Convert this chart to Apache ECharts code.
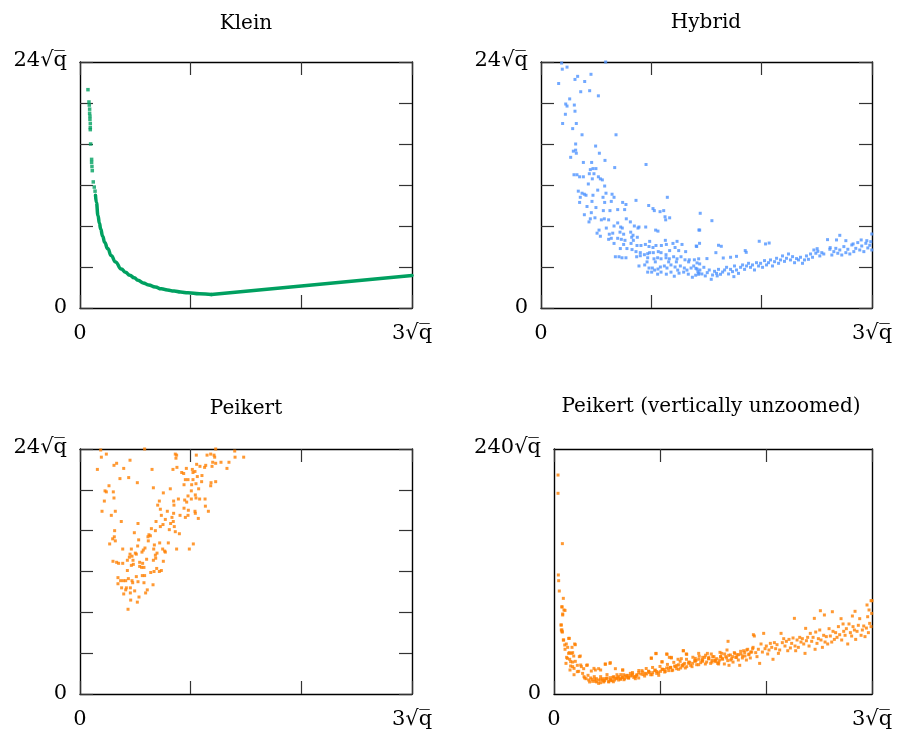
<!DOCTYPE html>
<html><head><meta charset="utf-8">
<script src="https://cdn.jsdelivr.net/npm/echarts@6/dist/echarts.min.js"></script>
<style>html,body{margin:0;padding:0;background:#fff}#c{width:897px;height:730px}</style>
</head><body><div id="c"></div>
<script>
// ---- titles and tick labels ----
const panelTitles = ['Klein', 'Hybrid', 'Peikert', 'Peikert (vertically unzoomed)'];
const xTickLabels = ['0', '3\u221Aq\u0305'];
const yTickLabels = ['0', '24\u221Aq\u0305'];
const yTickLabelsFull = ['0', '240\u221Aq\u0305'];
const xMax = 3, yMax = 24, yMaxFull = 240;

// ---- Klein (x, y in units of sqrt q) ----
const kleinDots = [
[0.072,21.3],[0.081,20.1],[0.084,19.8],[0.087,19.4],[0.087,19.0],[0.090,18.7],[0.090,18.4],[0.093,18.0],
[0.093,17.6],[0.093,17.4],[0.096,16.0],[0.105,14.5],[0.105,14.2],[0.108,13.8],[0.111,13.4],[0.120,12.3],
[0.129,11.8],[0.136,11.4]];
const kleinCurveFall = [
[0.14,11.0],[0.148,10.3],[0.163,9.0],[0.175,8.3],[0.187,7.7],[0.205,7.0],[0.223,6.4],[0.25,5.8],[0.283,5.1],[0.32,4.5],[0.373,3.8],
[0.41,3.5],[0.45,3.2],[0.49,2.95],[0.524,2.7],[0.57,2.45],[0.62,2.25],[0.68,2.05],[0.735,1.87],[0.79,1.75],[0.85,1.65],[0.91,1.56],
[0.976,1.48],[1.08,1.38],[1.187,1.32]];
const kleinCurveRise = [[1.187,1.32],[2.0,2.15],[3.0,3.17]];

// ---- Hybrid ----
const hybridPts = [
[0.187,23.9],[0.586,24.0],[0.236,23.5],[0.193,23.3],[0.332,22.6],[0.453,22.8],[0.308,22.3],[0.396,22.1],[0.160,21.9],
[0.360,21.1],[0.441,21.2],[0.520,20.7],[0.260,20.4],[0.224,19.9],[0.302,19.8],[0.236,19.7],[0.308,19.2],[0.221,18.9],
[0.196,18.0],[0.320,18.0],[0.287,17.5],[0.680,16.9],[0.372,16.9],[0.314,16.0],[0.495,15.8],[0.293,15.3],[0.314,15.4],
[0.320,15.1],[0.529,15.1],[0.269,14.7],[0.580,14.4],[0.952,14.0],[0.384,14.2],[0.459,14.2],[0.668,13.7],[0.498,13.6],
[0.471,13.6],[0.447,13.5],[0.480,13.1],[0.438,13.1],[0.299,13.0],[0.326,13.0],[0.350,12.8],[0.384,12.8],[0.520,12.8],
[0.538,12.6],[0.556,12.5],[0.429,12.1],[0.465,12.6],[0.577,11.9],[0.338,11.4],[0.372,11.2],[0.393,11.1],[0.408,11.0],
[0.356,10.8],[0.471,11.0],[0.514,11.5],[0.589,11.2],[0.644,11.1],[0.662,10.8],[1.145,10.8],[0.350,10.3],[0.462,10.4],
[0.562,10.8],[0.577,10.3],[0.637,10.4],[0.740,10.3],[0.770,10.1],[0.861,10.5],[0.976,10.0],[1.015,9.7],[1.027,9.5],
[1.079,9.4],[1.112,9.5],[0.417,9.9],[0.498,9.8],[0.565,9.5],[0.625,9.5],[0.695,9.6],[0.758,9.6],[1.124,8.9],[1.166,8.8],
[1.130,8.6],[0.393,9.1],[0.456,9.3],[0.489,8.8],[0.574,8.7],[0.613,8.6],[0.547,8.6],[0.447,8.7],[0.435,8.4],[0.773,8.7],
[0.810,8.4],[0.695,8.3],[0.846,8.0],[0.888,7.9],[0.949,7.9],[0.722,7.9],[0.662,8.0],[0.737,7.8],[0.592,7.8],[0.879,7.8],
[0.526,7.6],[0.508,7.3],[0.538,7.0],[0.619,7.2],[0.650,7.3],[0.716,7.4],[0.749,7.2],[0.813,7.4],[0.834,7.1],[1.039,7.6],
[1.060,7.5],[0.613,6.7],[0.637,6.8],[0.695,6.8],[0.728,6.7],[0.761,6.6],[0.822,6.9],[0.837,6.6],[0.873,6.9],[0.985,6.5],
[0.662,6.3],[0.749,6.2],[0.816,6.3],[0.870,6.1],[0.906,6.1],[0.946,6.2],[0.979,6.0],[1.015,5.9],[1.042,6.1],[1.127,6.6],
[1.091,6.1],[1.136,6.2],[1.196,6.3],[1.233,6.5],[1.278,6.2],[0.719,5.8],[0.779,5.8],[0.825,5.7],[0.861,5.5],[0.900,5.4],
[0.937,5.2],[0.967,5.3],[0.985,5.4],[1.018,5.4],[1.063,5.5],[1.088,5.4],[1.133,5.2],[1.166,5.6],[1.215,5.9],[1.248,5.6],
[1.311,5.5],[1.411,6.0],[1.438,7.6],[0.674,5.0],[0.707,5.0],[0.734,4.9],[0.770,4.9],[0.867,5.0],[0.900,5.1],[0.967,4.9],
[1.024,4.8],[1.057,4.9],[1.088,4.8],[1.133,4.9],[1.163,4.8],[1.202,5.0],[1.233,4.8],[1.269,5.0],[1.305,4.7],[1.344,4.7],
[1.390,4.7],[1.429,4.8],[0.888,4.1],[0.940,4.2],[0.979,3.9],[1.009,3.9],[1.030,3.7],[1.060,3.8],[1.082,4.0],[1.118,4.1],
[1.142,3.9],[1.178,4.2],[1.215,4.0],[1.239,3.7],[1.263,4.1],[1.299,3.9],[1.323,3.7],[1.360,3.9],[1.384,4.1],[1.414,3.8],
[1.438,4.3],[0.967,3.5],[1.003,3.5],[1.057,3.3],[1.088,3.5],[1.136,3.3],[1.178,3.5],[1.208,3.1],[1.251,3.4],[1.293,3.5],
[1.335,3.3],[1.372,3.0],[1.402,3.2],[1.432,3.4],[0.961,4.5],[1.036,4.5],[1.157,4.5],[1.227,4.5],[1.338,4.5],[1.414,4.4],
[1.443,9.24],[1.549,8.52],[1.431,7.61],[1.437,6.31],[1.407,6.05],[1.609,6.12],[1.634,6.02],[1.585,5.40],[1.978,6.51],
[2.035,6.25],[2.068,6.34],[1.851,5.60],[1.860,5.43],[1.718,4.95],[1.772,5.04],[1.652,4.88],[1.504,4.82],[2.597,6.67],
[2.708,7.09],[2.678,6.64],[2.763,6.57],[2.829,6.25],[2.902,6.64],[2.998,7.22],[2.503,5.79],[2.621,5.89],
[1.404,3.87],[1.422,3.55],[1.440,3.71],[1.458,3.32],[1.476,3.97],[1.489,3.13],[1.507,3.45],[1.525,3.71],[1.543,2.80],
[1.555,3.22],[1.573,3.58],[1.591,3.38],[1.609,3.77],[1.627,3.29],[1.646,3.51],[1.664,3.71],[1.682,3.97],[1.700,3.32],
[1.718,3.77],[1.736,3.55],[1.754,4.10],[1.772,3.71],[1.790,3.38],[1.809,3.97],[1.827,4.20],[1.845,3.77],[1.863,4.10],
[1.881,4.36],[1.899,3.97],[1.917,4.20],[1.935,3.71],[1.953,4.42],[1.972,4.10],[1.990,4.36],[2.008,3.97],[2.026,4.62],
[2.044,4.20],[2.062,4.42],[2.080,4.69],[2.098,4.10],[2.117,4.52],[2.135,4.85],[2.153,4.36],[2.171,4.69],[2.189,5.08],
[2.207,4.55],[2.225,4.85],[2.243,5.27],[2.261,4.69],[2.280,5.01],[2.298,4.42],[2.316,4.82],[2.334,4.69],[2.352,4.95],
[2.370,4.36],[2.388,4.69],[2.406,5.08],[2.424,4.75],[2.443,5.27],[2.461,4.95],[2.473,5.66],[2.491,5.34],[2.509,5.53],
[2.527,5.08],[2.545,5.40],[2.563,5.27],[2.618,5.73],[2.636,5.17],[2.654,5.50],[2.672,5.82],[2.690,5.34],[2.708,5.66],
[2.726,5.17],[2.745,5.99],[2.763,5.40],[2.781,5.73],[2.799,5.27],[2.817,6.15],[2.835,5.50],[2.853,5.82],[2.871,6.38],
[2.889,5.66],[2.907,6.05],[2.926,5.50],[2.944,6.31],[2.962,5.86],[2.980,6.12],[2.998,5.66],[2.989,6.47],[2.953,6.57],
[1.428,3.29],[1.597,3.13],[1.748,3.06]];

// ---- Peikert (zoomed) ----
const peikertPts = [
[0.187,23.9],[0.584,24.0],[0.193,23.2],[0.238,23.5],[1.226,24.0],[1.398,23.8],[1.401,23.2],[1.479,23.2],[0.861,23.5],
[0.873,23.4],[0.867,23.1],[1.051,23.4],[1.148,23.4],[1.181,23.5],[1.211,23.4],[1.217,23.2],[1.054,22.5],[1.084,22.3],
[1.136,22.4],[1.126,22.2],[1.199,22.7],[1.226,22.6],[1.274,22.7],[1.346,22.7],[1.328,22.1],[1.193,22.3],[0.157,22.0],
[0.307,22.4],[0.331,22.6],[0.395,22.1],[0.452,22.9],[0.651,22.0],[0.840,22.0],[0.876,22.2],[0.919,21.7],[0.937,21.6],
[0.961,22.1],[1.021,21.7],[1.039,21.8],[1.015,22.0],[1.102,21.4],[0.952,21.0],[0.976,21.0],[1.021,21.0],[1.060,21.3],
[1.099,20.8],[1.184,20.7],[1.226,20.8],[1.181,20.4],[0.940,20.5],[1.009,20.5],[1.048,20.6],[1.072,20.1],[0.361,21.1],
[0.440,21.2],[0.518,20.7],[0.262,20.4],[0.226,19.9],[0.238,19.8],[0.301,19.8],[0.307,19.2],[0.663,20.2],[0.816,20.1],
[0.753,19.7],[1.006,19.9],[1.042,19.5],[0.976,19.4],[1.006,19.1],[1.048,19.2],[1.081,19.1],[1.130,19.1],[1.133,18.4],
[0.946,19.0],[0.964,18.8],[0.889,19.1],[0.846,18.9],[0.717,18.9],[0.702,18.5],[0.849,18.5],[0.940,18.2],[0.979,18.0],
[1.039,17.9],[1.042,17.7],[1.069,17.2],[1.160,17.9],[0.220,18.9],[0.199,17.9],[0.319,17.9],[0.283,17.5],[0.373,16.9],
[0.735,17.5],[0.726,18.1],[0.789,17.9],[0.846,17.7],[0.904,17.5],[0.976,17.5],[0.952,17.3],[0.831,17.3],[0.843,16.9],
[0.771,17.1],[0.819,16.7],[0.750,16.6],[0.726,16.4],[0.687,16.9],[0.645,16.2],[0.681,16.0],[0.623,15.6],[0.636,15.5],
[0.614,15.4],[0.807,16.1],[0.852,16.4],[0.861,15.9],[0.898,15.7],[0.313,16.0],[0.310,15.4],[0.295,15.2],[0.319,15.0],
[0.268,14.7],[0.491,15.8],[0.524,16.7],[0.530,15.1],[0.617,15.0],[0.720,14.8],[0.672,14.6],[0.666,14.2],[0.587,14.3],
[0.572,14.1],[0.560,13.9],[0.521,14.5],[0.464,14.2],[0.452,13.7],[0.470,13.5],[0.500,13.8],[0.509,13.7],[0.386,14.2],
[0.798,14.8],[0.747,14.2],[0.765,14.0],[0.771,13.9],[0.696,13.8],[0.681,13.6],[0.873,14.2],[0.988,14.2],[1.024,14.7],
[0.446,13.4],[0.428,13.1],[0.479,13.1],[0.539,12.9],[0.566,12.8],[0.602,13.2],[0.663,13.1],[0.684,13.3],[0.753,13.0],
[0.298,13.0],[0.331,12.9],[0.349,12.8],[0.386,12.8],[0.428,12.1],[0.464,12.6],[0.482,12.7],[0.539,12.5],[0.557,12.4],
[0.578,12.4],[0.693,12.3],[0.735,12.1],[0.639,11.9],[0.669,12.0],[0.717,12.0],[0.509,11.5],[0.563,11.6],[0.584,11.6],
[0.343,11.4],[0.367,11.1],[0.392,11.1],[0.413,11.1],[0.437,11.3],[0.470,11.1],[0.476,10.9],[0.524,11.0],[0.578,10.9],
[0.660,10.7],[0.343,10.8],[0.376,10.4],[0.419,10.4],[0.455,10.4],[0.413,10.2],[0.494,10.1],[0.608,10.2],[0.395,9.8],
[0.455,9.9],[0.593,9.9],[0.533,9.5],[0.458,9.2],[0.518,9.0],[0.434,8.3]];

// ---- Peikert (vertically unzoomed) ----
const peikertFullPts = [
[0.038,214.5],[0.038,196.6],[0.079,147.3],[0.041,116.6],[0.044,111.0],[0.050,100.9],[0.088,93.7],[0.075,85.2],[0.082,78.4],
[0.104,81.9],[0.066,67.6],[0.075,62.7],[0.079,60.7],[0.145,54.5],[0.091,52.9],[0.116,49.0],[0.129,45.7],[0.201,48.3],
[0.170,45.7],[0.104,43.8],[0.138,39.8],[0.164,39.8],[0.186,37.2],[0.119,35.9],[0.148,34.0],[0.248,37.2],[0.176,31.3],
[0.201,32.0],[0.157,27.4],[0.220,28.1],[0.258,26.8],[0.280,24.8],[0.308,28.1],[0.352,22.5],[0.390,23.5],[0.421,24.8],
[0.484,29.4],[0.531,30.7],[0.579,24.8],[0.189,18.9],[0.233,22.2],[0.270,20.2],[0.289,15.7],[0.321,18.3],[0.358,14.4],
[0.336,11.8],[0.390,12.4],[0.421,10.4],[0.453,13.7],[0.484,15.0],[0.516,11.8],[0.547,13.1],[0.579,15.7],[0.610,13.7],
[0.642,16.3],[0.673,17.6],[0.704,15.7],[0.736,18.3],[0.767,15.0],[0.437,14.4],[0.469,11.8],[0.500,15.7],[0.531,13.7],
[0.563,17.0],[0.594,18.9],[0.626,15.0],[0.657,18.9],[0.689,16.3],[0.720,20.2],[0.752,16.3],[0.783,18.9],[0.648,23.5],
[0.799,20.9],[0.830,22.9],[0.862,20.2],[0.893,22.2],[0.925,18.9],[0.956,23.5],[0.987,20.9],[1.019,24.2],[1.050,22.2],
[1.082,25.5],[1.113,22.9],[1.145,26.8],[1.176,24.2],[1.208,28.1],[1.239,25.5],[1.270,30.0],[1.302,26.8],[1.333,32.0],
[1.365,28.7],[1.396,33.3],[1.428,29.4],[1.459,34.6],[1.491,31.3],[1.522,33.3],[1.553,29.4],[1.572,36.6],[0.918,34.9],
[0.962,39.5],[1.066,38.9],[1.088,35.9],[1.107,35.3],[1.019,31.7],[1.170,34.0],[1.201,34.6],[1.220,42.4],[1.248,39.2],
[1.333,34.9],[1.365,39.8],[1.403,35.9],[1.447,39.8],[1.484,39.2],[1.509,36.6],[1.566,40.8],
[0.38,17],[0.40,15],[0.44,17],[0.47,13],[0.50,19],[0.53,16],[0.56,12],[0.60,16],[0.63,19],[0.66,14],[0.70,18],[0.74,21],
[0.77,17],[0.80,23],[0.84,19],[0.87,25],[0.90,21],[0.93,26],[0.97,22],[1.00,27],[1.04,24],[1.07,29],[1.10,26],[1.13,31],
[1.16,28],[1.19,32],[1.22,29],[1.25,34],[1.28,31],[1.31,36],[1.34,33],[1.37,37],[1.40,32],[1.43,38],[1.46,36],[1.49,33],
[0.283,17.0],[0.302,15.0],[0.327,13.7],[0.346,15.7],[0.365,12.4],[0.384,14.4],[0.403,11.8],[0.421,13.7],[0.440,11.1],
[0.459,15.0],[0.478,13.1],[0.497,15.0],[0.516,12.4],[0.535,13.7],[0.554,16.3],[0.572,13.7],[0.591,15.0],[0.610,17.0],
[0.629,14.4],[0.648,16.3],[0.667,15.0],[0.686,18.3],[0.704,15.7],[0.723,17.6],[0.742,19.6],[0.761,17.0],[0.780,18.3],
[0.799,15.7],[0.818,19.6],[0.837,21.5],[0.855,17.6],[0.874,19.6],[0.893,22.2],[0.912,18.9],[0.931,20.9],[0.950,22.9],
[0.969,20.2],[0.988,18.3],[1.006,22.2],[1.025,24.2],[1.044,21.5],[1.063,25.5],[1.082,22.9],[1.101,26.1],[1.120,23.5],
[1.138,27.4],[1.157,24.8],[1.176,28.7],[1.195,25.5],[1.214,27.4],[1.233,30.0],[1.252,26.8],[1.271,31.3],[1.289,28.1],
[1.308,30.0],[1.327,32.7],[1.346,28.7],[1.365,34.0],[1.384,30.7],[1.403,33.3],[1.422,35.9],[1.440,31.3],[1.459,34.6],
[1.478,30.0],[1.497,36.6],[1.516,32.7],[1.535,34.6],[1.554,31.3],[1.573,36.6],[1.591,34.0],[1.610,39.2],[1.629,35.3],
[1.648,37.9],[1.667,33.3],[1.686,36.6],[1.705,39.8],[1.723,35.9],[1.742,38.5],[1.761,41.8],[1.780,37.2],[1.799,40.5],
[1.818,43.1],[1.837,38.5],[1.856,41.1],[1.874,44.4],
[0.918,35.3],[0.962,39.8],[1.019,31.3],[1.063,39.2],[1.107,35.9],[1.220,42.4],[1.252,38.9],[1.642,51.6],[1.881,58.1],
[0.528,30.0],[0.484,29.1],[0.440,23.5],[0.377,25.1],[0.648,23.5],[0.315,28.4],[0.252,28.4],[0.239,36.6],[0.195,49.0],
[0.176,40.5],[0.145,40.5],[0.138,54.5],[0.101,48.0],[0.088,52.9],[0.069,62.7],[0.075,61.1],[0.069,67.6],[0.082,77.4],
[0.094,82.3],[0.075,85.5],[0.126,34.9],[0.157,31.7],[0.113,30.0],[0.189,25.1],[0.220,21.9],[0.151,23.5],[0.176,26.8],
[1.525,31.7],[1.544,30.0],[1.563,33.3],[1.582,39.8],[1.588,34.9],[1.607,29.4],[1.620,36.6],[1.632,43.1],[1.639,32.7],
[1.651,28.1],[1.664,38.2],[1.676,34.6],[1.689,31.3],[1.701,40.5],[1.714,35.9],[1.727,38.5],[1.739,33.3],[1.752,28.1],
[1.764,39.2],[1.777,35.3],[1.789,42.4],[1.802,37.2],[1.815,33.3],[1.827,43.8],[1.840,39.2],[1.852,35.3],[1.865,41.1],
[1.878,45.7],[1.890,56.8],[1.903,40.5],[1.915,36.6],[1.928,43.8],[1.940,30.0],[1.953,49.0],[1.966,41.1],[1.978,59.4],
[1.991,44.4],[2.003,47.0],[2.016,39.2],[2.028,43.1],[2.041,49.6],[2.054,45.7],[2.066,34.0],[2.079,50.3],[2.091,44.4],
[2.104,48.3],[2.117,39.8],[2.129,43.1],[2.142,59.4],[2.154,50.3],[2.167,54.2],[2.179,47.0],[2.192,51.6],[2.205,42.4],
[2.217,53.5],[2.230,45.1],[2.242,49.6],[2.255,54.9],[2.268,74.1],[2.274,47.0],[2.280,42.4],[2.293,52.9],[2.305,45.7],
[2.318,55.5],[2.330,50.9],[2.343,54.2],[2.356,49.0],[2.368,39.8],[2.374,64.3],[2.381,52.2],[2.393,55.5],[2.406,47.0],
[2.418,59.4],[2.431,51.6],[2.444,55.5],[2.456,74.1],[2.463,43.8],[2.469,60.7],[2.481,49.6],[2.494,54.2],[2.507,62.7],
[2.513,81.6],[2.519,52.9],[2.532,45.7],[2.544,57.5],[2.551,77.4],[2.557,50.9],[2.569,56.2],[2.582,49.0],[2.595,64.0],
[2.607,56.8],[2.620,50.9],[2.626,80.6],[2.632,61.4],[2.645,53.5],[2.657,60.1],[2.670,55.5],[2.683,66.0],[2.695,58.1],
[2.708,73.8],[2.714,52.9],[2.727,68.6],[2.733,61.4],[2.746,57.5],[2.758,64.0],[2.771,49.0],[2.783,68.6],[2.796,60.1],
[2.808,56.8],[2.815,76.4],[2.821,66.0],[2.834,62.7],[2.840,81.0],[2.846,53.5],[2.859,61.4],[2.871,67.3],[2.884,73.8],
[2.897,57.5],[2.909,62.7],[2.922,66.6],[2.934,56.2],[2.947,64.6],[2.959,75.7],[2.966,60.1],[2.978,69.2],[2.991,66.0],
[2.997,79.0],[2.991,91.4],[3.000,91.4],[2.953,87.2],[2.972,82.3]];

// ---- styling ----
const FONT = 'DejaVu Serif';
const green = '#00a060', blue = '#4f94ff', orange = '#ff8000';
const grids = [
  {left: 80, top: 62, width: 332, height: 246},
  {left: 541, top: 62, width: 331, height: 246},
  {left: 80, top: 449, width: 332, height: 245},
  {left: 554, top: 449, width: 318, height: 245}
];
const titleCenters = [[246, 14], [706, 13], [246, 399], [711, 397]];

const lineCol = {color: '#000', width: 1.4};
const tickCol = {color: '#333', width: 1.2};
const xAxes = [], yAxes = [];
grids.forEach((g, i) => {
  const full = i === 3;
  const ym = full ? yMaxFull : yMax;
  const yLabs = full ? yTickLabelsFull : yTickLabels;
  xAxes.push({gridIndex: i, type: 'value', min: 0, max: xMax, interval: 1, position: 'bottom',
    axisLine: {show: true, onZero: false, lineStyle: lineCol},
    axisTick: {show: true, inside: true, length: 13, lineStyle: tickCol},
    splitLine: {show: false},
    axisLabel: {show: true, margin: 15, showMinLabel: true, showMaxLabel: true,
      fontFamily: FONT, fontSize: 21, color: '#000',
      formatter: v => v === 0 ? xTickLabels[0] : (v === xMax ? xTickLabels[1] : '')}});
  xAxes.push({gridIndex: i, type: 'value', min: 0, max: xMax, interval: 1, position: 'top',
    axisLine: {show: true, onZero: false, lineStyle: lineCol},
    axisTick: {show: true, inside: true, length: 13, lineStyle: tickCol},
    splitLine: {show: false}, axisLabel: {show: false}});
  yAxes.push({gridIndex: i, type: 'value', min: 0, max: ym, interval: full ? ym : 4, position: 'left',
    axisLine: {show: true, onZero: false, lineStyle: lineCol},
    axisTick: {show: !full, inside: true, length: 13, lineStyle: tickCol},
    splitLine: {show: false},
    axisLabel: {show: true, margin: 13, showMinLabel: true, showMaxLabel: true,
      fontFamily: FONT, fontSize: 21, color: '#000',
      formatter: v => v === 0 ? yLabs[0] : (v === ym ? '{t|' + yLabs[1] + '}' : ''),
      rich: {t: {fontFamily: FONT, fontSize: 21, color: '#000', padding: [0, 0, 3, 0]}}}});
  yAxes.push({gridIndex: i, type: 'value', min: 0, max: ym, interval: full ? ym : 4, position: 'right',
    axisLine: {show: true, onZero: false, lineStyle: lineCol},
    axisTick: {show: !full, inside: true, length: 13, lineStyle: tickCol},
    splitLine: {show: false}, axisLabel: {show: false}});
});

const scatter = (i, data, color, size) => ({type: 'scatter', xAxisIndex: 2 * i, yAxisIndex: 2 * i,
  data: data, symbol: 'rect', symbolSize: size, itemStyle: {color: color}, silent: true, animation: false});
const kleinLine = (data, smooth) => ({type: 'line', xAxisIndex: 0, yAxisIndex: 0, data: data, showSymbol: false,
  smooth: smooth, smoothMonotone: 'x', lineStyle: {color: green, width: 3.5, cap: 'round', join: 'round'},
  silent: true, animation: false});

const option = {
  animation: false,
  backgroundColor: '#fff',
  title: panelTitles.map((t, i) => ({text: t, left: titleCenters[i][0], top: titleCenters[i][1],
    textAlign: 'center', padding: 0,
    textStyle: {fontFamily: FONT, fontWeight: 'normal', fontSize: 20, color: '#000'}})),
  grid: grids,
  xAxis: xAxes,
  yAxis: yAxes,
  series: [
    kleinLine(kleinCurveFall, 0.5),
    kleinLine(kleinCurveRise, false),
    scatter(0, kleinDots, green, 3.5),
    scatter(1, hybridPts, blue, 3),
    scatter(2, peikertPts, orange, 3),
    scatter(3, peikertFullPts, orange, 3)
  ]
};
const chart = echarts.init(document.getElementById('c'), null, {renderer: 'canvas'});
chart.setOption(option);
</script></body></html>
